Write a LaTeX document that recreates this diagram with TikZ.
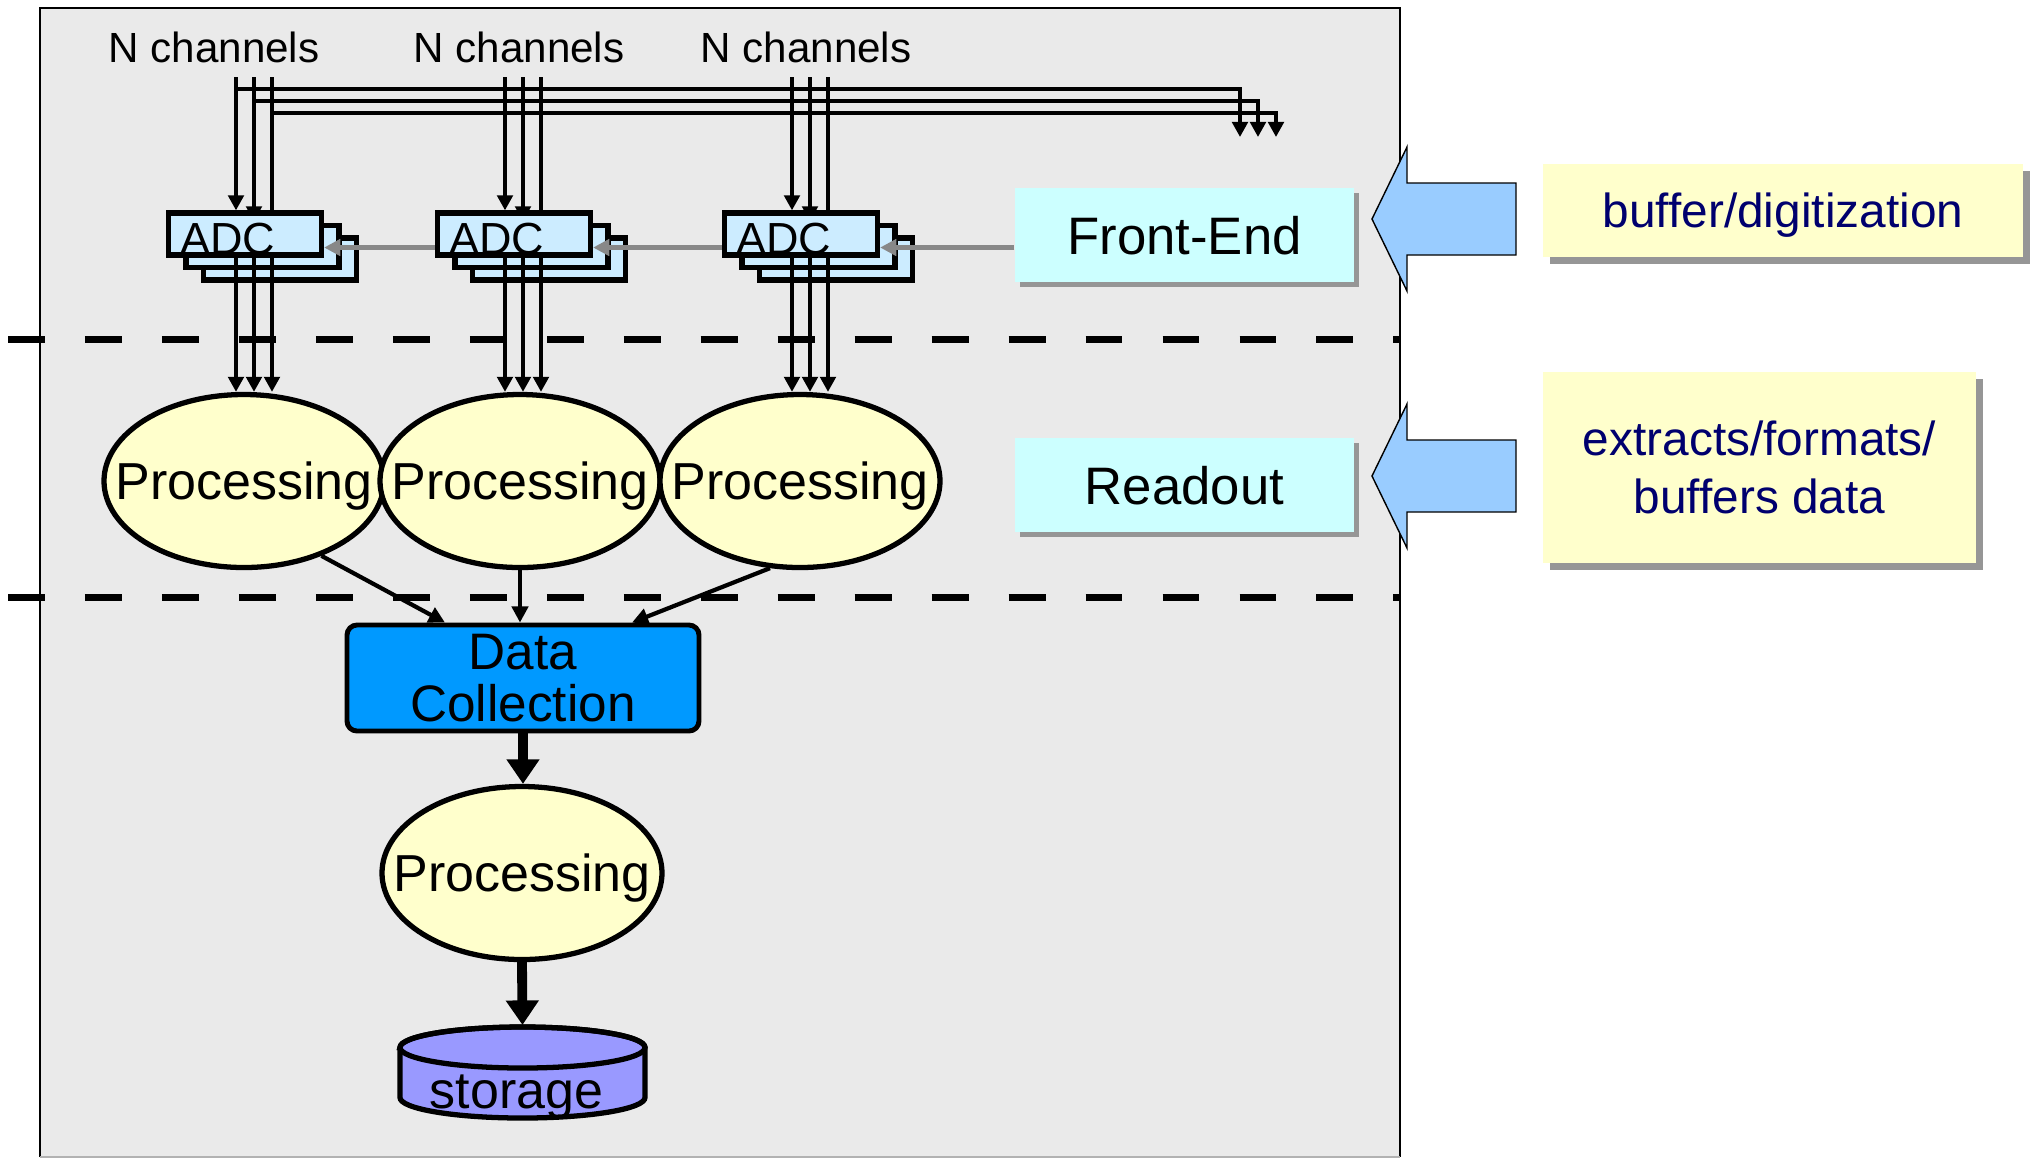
\documentclass[tikz,border=0pt]{standalone}
\usepackage{fontspec}
\setmainfont{Liberation Sans}
\usetikzlibrary{arrows.meta, shapes.geometric, shadows, calc}
\definecolor{panelgray}{RGB}{234,234,234}
\definecolor{adcblue}{RGB}{204,236,255}
\definecolor{fecyan}{RGB}{204,255,255}
\definecolor{procyellow}{RGB}{255,255,204}
\definecolor{dcblue}{RGB}{0,153,255}
\definecolor{storeblue}{RGB}{153,153,255}
\definecolor{hintblue}{RGB}{153,204,255}
\definecolor{navytext}{RGB}{0,0,110}
\definecolor{shadegray}{RGB}{150,150,150}
\definecolor{linkgray}{RGB}{136,136,136}
\pgfdeclarelayer{back}
\pgfsetlayers{back,main}

\tikzset{
  chanlabel/.style={font=\fontsize{12}{14}\selectfont, inner sep=0pt},
  adcbox/.style={draw, line width=1.5pt, fill=adcblue, minimum width=1.53cm, minimum height=0.42cm, inner sep=0pt},
  adcfront/.style={adcbox, inner xsep=0.12cm, text width=1.29cm, align=left, text height=0.40cm, text depth=0pt, font=\fontsize{12.8}{14}\selectfont},
  stagebox/.style={fill=fecyan, minimum width=3.39cm, minimum height=0.94cm, inner sep=0pt, text depth=0pt, font=\fontsize{15}{18}\selectfont,
    drop shadow={shadow xshift=0.05cm, shadow yshift=-0.05cm, fill=shadegray, opacity=1}},
  notebox/.style={fill=procyellow, text=navytext, align=center, inner sep=0pt, font=\fontsize{13.6}{16.6}\selectfont,
    drop shadow={shadow xshift=0.065cm, shadow yshift=-0.065cm, fill=shadegray, opacity=1}},
  proc/.style={ellipse, draw, line width=1.5pt, fill=procyellow, minimum width=2.80cm, minimum height=1.73cm,
    inner xsep=-6mm, inner ysep=0pt, text depth=0pt, font=\fontsize{14.8}{16}\selectfont},
  dcbox/.style={draw, line width=1.4pt, fill=dcblue, rounded corners=0.1cm, minimum width=3.52cm, minimum height=1.06cm,
    align=center, inner sep=0pt, font=\fontsize{14.6}{14.6}\selectfont},
  storetext/.style={inner sep=0pt, font=\fontsize{14.8}{16}\selectfont},
  chanarrow/.style={line width=1.2pt, -{Triangle[length=4.3pt, width=4.4pt]}},
  linkarrow/.style={color=linkgray, line width=1.5pt, -{Triangle[length=4.6pt, width=4.6pt]}},
  dcarrow/.style={line width=1.2pt, -{Triangle[length=4.6pt, width=4.6pt]}},
  flowarrow/.style={line width=2.8pt, -{Triangle[length=7pt, width=9pt]}},
  sepline/.style={line width=2pt, dash pattern=on 10.5pt off 11.4pt},
  hintarrow/.style={fill=hintblue, draw=black, line width=0.4pt},
  storestyle/.style={fill=storeblue, draw=black, line width=1.5pt}
}

\begin{document}
\begin{tikzpicture}
  \useasboundingbox (0,0) rectangle (20.31,-11.59);

  % grey panel
  \begin{pgfonlayer}{back}
    \fill[panelgray] (0.40,-0.08) rectangle (14.00,-11.57);
    \draw[line width=0.6pt] (0.40,-11.57) |- (14.00,-0.08) -- (14.00,-11.57);
    \draw[gray!60, line width=0.6pt] (0.40,-11.57) -- (14.00,-11.57);
  \end{pgfonlayer}

  % stage boxes
  \node[stagebox] (fe) at (11.845,-2.35) {Front-End};
  \node[stagebox] (ro) at (11.845,-4.85) {Readout};

  % notes
  \node[notebox, minimum width=4.80cm, minimum height=0.93cm, text depth=0pt] (note1) at (17.83,-2.105) {buffer/digitization};
  \node[notebox, minimum width=4.33cm, minimum height=1.91cm] (note2) at (17.595,-4.675) {extracts/formats/\\buffers data};

  % big arrows
  \foreach \y in {2.19,4.76} {
    \draw[hintarrow] (13.72,-\y) -- ++(0.35,0.72) -- ++(0,-0.36) -- ++(1.09,0)
      -- ++(0,-0.72) -- ++(-1.09,0) -- ++(0,-0.36) -- cycle;
  }

  % channel groups
  \foreach \L/\E/\T [count=\i] in {1.66/2.44/2.14, 4.35/5.20/5.19, 7.22/8.00/8.06} {
    \node[chanlabel, anchor=base] (nch\i) at (\T,-0.62) {N channels};
    \node[adcbox] (adcc\i) at (\L+0.79+0.35,-2.34-0.25) {};
    \node[adcbox] (adcb\i) at (\L+0.79+0.175,-2.34-0.125) {};
    \node[adcfront] (adc\i) at (\L+0.79,-2.34) {ADC};
    \node[proc] (proc\i) at (\E,-4.81) {Processing};
    \foreach \k in {0,1,2} {
      \coordinate (top\i\k) at (\L+0.70+0.18*\k,-0.77);
      \begin{pgfonlayer}{back}
        \draw[chanarrow] (top\i\k) -- ($(top\i\k |- adc\i.north)+(0,-0.11*\k)$);
      \end{pgfonlayer}
      \draw[chanarrow] (top\i\k |- adc\i.south) -- (top\i\k |- proc\i.north);
    }
  }

  % bus to the right
  \foreach \k in {0,1,2} {
    \coordinate (bus\k) at (2.36+0.18*\k,-0.89-0.12*\k);
    \coordinate (busend\k) at (12.40+0.18*\k,-1.37);
    \draw[chanarrow] (bus\k) -| (busend\k);
  }

  % control links
  \coordinate (linky) at (0,-2.475);
  \draw[linkarrow] (fe.west |- linky) -- (adc3.east |- linky);
  \draw[linkarrow] (adc3.west |- linky) -- (adc2.east |- linky);
  \draw[linkarrow] (adc2.west |- linky) -- (adc1.east |- linky);

  % collection and storage
  \node[dcbox] (dc) at (5.23,-6.78) {Data\\Collection};
  \node[proc] (proc4) at (5.22,-8.73) {Processing};
  \draw[dcarrow] (proc1.-44) -- ($(dc.north)+(-0.78,0)$);
  \draw[dcarrow] (proc2.south) -- (proc2.south |- dc.north);
  \draw[dcarrow] (proc3.-109) -- ($(dc.north)+(1.09,0)$);
  \draw[flowarrow] (dc.south) -- (dc.south |- proc4.north);

  \filldraw[storestyle] (4.00,-10.475) -- (4.00,-10.975)
    arc[start angle=180, end angle=360, x radius=1.225, y radius=0.205] -- (6.45,-10.475)
    arc[start angle=0, end angle=180, x radius=1.225, y radius=0.205] -- cycle;
  \draw[storestyle, fill=none] (5.225,-10.475) ellipse[x radius=1.225, y radius=0.205];
  \coordinate (storetop) at (5.225,-10.25);
  \node[storetext, anchor=base] (storetxt) at (5.165,-11.08) {storage};
  \draw[flowarrow] (proc4.south) -- (storetop);

  % level separators
  \draw[sepline] (0.08,-3.395) -- (14.00,-3.395);
  \draw[sepline] (0.08,-5.97) -- (14.00,-5.97);
\end{tikzpicture}
\end{document}
